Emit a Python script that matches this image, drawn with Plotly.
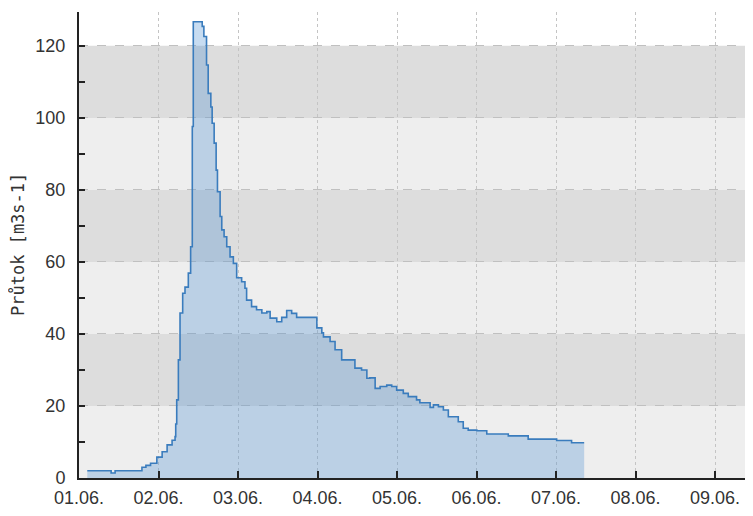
import pandas as pd
import plotly.graph_objects as go

# hours since 01.06. 00:00 and discharge values [m3/s]
hours = [2.5, 9.4, 9.7, 10.6, 10.9, 18.1, 19.0, 20.2, 21.6, 23.5, 25.1, 26.6, 28.1, 29.0,
         29.2, 29.5, 30.0, 30.5, 31.3, 32.0, 33.0, 33.7, 34.2, 34.5, 37.0, 37.2, 37.7,
         38.5, 39.0, 39.8, 40.2, 40.8, 41.4, 41.8, 42.6, 43.1, 43.8, 44.6, 45.6, 46.6,
         47.6, 49.1, 50.1, 50.6, 52.1, 53.6, 55.2, 56.7, 57.7, 59.7, 61.2, 62.7, 64.2,
         65.7, 70.7, 71.8, 73.3, 73.8, 75.8, 77.3, 79.3, 81.8, 83.3, 85.3, 86.9, 87.8,
         89.4, 90.9, 92.9, 94.4, 95.9, 97.9, 99.4, 101.9, 102.9, 105.0, 106.0, 107.0,
         108.5, 110.0, 111.5, 113.0, 114.5, 116.0, 117.5, 120.1, 123.1, 129.1, 129.6,
         134.6, 135.6, 143.7, 144.2, 148.2, 148.7, 152.5]
flow = [2.0, 2.0, 1.4, 1.4, 2.0, 2.0, 3.0, 3.5, 4.1, 5.8, 7.3, 9.2, 10.5, 11.5,
        15.0, 21.7, 32.8, 45.8, 51.3, 53.0, 56.9, 64.2, 97.6, 126.7, 126.7, 125.4, 122.6,
        114.7, 106.8, 103.0, 98.5, 93.0, 85.5, 79.5, 72.6, 68.9, 67.0, 64.2, 61.4, 59.6,
        55.6, 54.5, 52.7, 49.4, 47.6, 46.7, 45.8, 46.2, 44.4, 43.4, 44.6, 46.5, 45.7,
        44.6, 44.6, 41.7, 40.3, 39.2, 37.9, 35.6, 32.8, 32.8, 30.5, 30.0, 27.7, 27.8,
        24.9, 25.4, 25.8, 25.4, 24.4, 23.5, 22.6, 21.7, 20.9, 20.9, 19.6, 20.3,
        19.8, 18.9, 17.0, 17.0, 15.6, 13.8, 13.3, 13.1, 12.2, 12.2, 11.7,
        11.7, 10.8, 10.8, 10.4, 10.4, 9.8, 9.8]

tick_days = ["2013-06-01", "2013-06-02", "2013-06-03", "2013-06-04", "2013-06-05",
             "2013-06-06", "2013-06-07", "2013-06-08", "2013-06-09"]
tick_labels = ["01.06.", "02.06.", "03.06.", "04.06.", "05.06.",
               "06.06.", "07.06.", "08.06.", "09.06."]
band_edges = [0, 20, 40, 60, 80, 100, 120]
band_colors = ["#eeeeee", "#dddddd"]

base = pd.Timestamp("2013-06-01 00:00")
times = [base + pd.Timedelta(hours=h) for h in hours]
x_end = base + pd.Timedelta(hours=8.478 * 24)

fig = go.Figure()
fig.add_trace(go.Scatter(
    x=times, y=flow, mode="lines",
    line=dict(color="#3a7cbd", width=1.6, shape="hv"),
    fill="tozeroy", fillcolor="rgba(70,140,210,0.30)",
    hoverinfo="skip", showlegend=False,
))

shapes = []
for i in range(len(band_edges) - 1):
    shapes.append(dict(type="rect", xref="paper", yref="y", x0=0, x1=1,
                       y0=band_edges[i], y1=band_edges[i + 1],
                       fillcolor=band_colors[i % 2], line=dict(width=0), layer="below"))

fig.update_layout(
    width=753, height=516,
    margin=dict(l=71, r=8, t=4, b=46),
    paper_bgcolor="white", plot_bgcolor="white",
    shapes=shapes,
    font=dict(family="Liberation Sans, Arial, sans-serif", size=18, color="#333333"),
    annotations=[dict(text="Průtok [m3s-1]", xref="paper", yref="paper",
                      x=-0.0905, y=0.5, xanchor="center", yanchor="middle",
                      textangle=-90, showarrow=False,
                      font=dict(family="DejaVu Sans Mono", size=17, color="#333333"))],
)
fig.update_xaxes(
    range=[base, x_end], type="date",
    tickvals=[pd.Timestamp(d) for d in tick_days], ticktext=tick_labels,
    ticks="inside", ticklen=7, tickwidth=2, tickcolor="#222222",
    showline=True, linecolor="#222222", linewidth=2,
    showgrid=True, gridcolor="#c4c4c4", griddash="dot", gridwidth=1,
    zeroline=False, fixedrange=True, ticklabelstandoff=2,
)
fig.update_yaxes(
    range=[0, 129.4], tickvals=[0, 20, 40, 60, 80, 100, 120],
    ticks="inside", ticklen=6, tickwidth=1.5, tickcolor="#222222",
    minor=dict(dtick=10, tick0=0, ticks="inside", ticklen=6, tickcolor="#222222", showgrid=False),
    showline=True, linecolor="#222222", linewidth=2,
    showgrid=True, gridcolor="#c0c0c0", griddash="dash", gridwidth=1,
    zeroline=False, ticklabelstandoff=8,
)
fig.write_html("out.html")
